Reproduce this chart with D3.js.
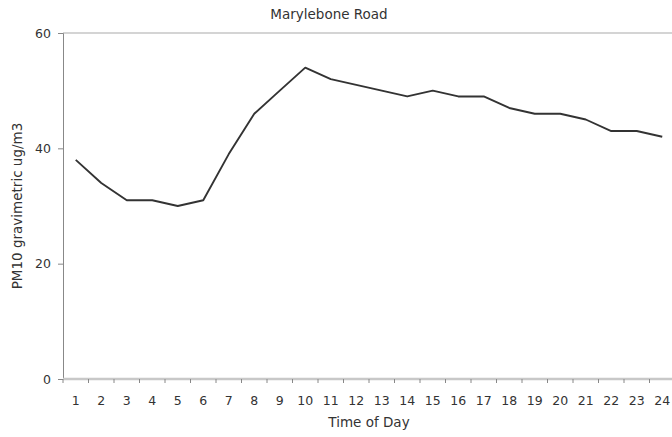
<!DOCTYPE html>
<html>
<head>
<meta charset="utf-8">
<script src="https://cdn.jsdelivr.net/npm/d3@7"></script>
<style>
  html, body { margin: 0; padding: 0; background: #fff; }
  svg { display: block; }
  text { font-family: "DejaVu Sans", Verdana, sans-serif; fill: #333; }
</style>
</head>
<body>
<svg id="chart" width="672" height="437"></svg>
<script>
// Hourly mean PM10 (gravimetric), Marylebone Road
const hours = ["1","2","3","4","5","6","7","8","9","10","11","12",
               "13","14","15","16","17","18","19","20","21","22","23","24"];
const pm10 = [38, 34, 31, 31, 30, 31, 39, 46, 50, 54, 52, 51,
              50, 49, 50, 49, 49, 47, 46, 46, 45, 43, 43, 42];
const yTicks = [0, 20, 40, 60];

const chartTitle = "Marylebone Road";
const xTitle = "Time of Day";
const yTitle = "PM10 gravimetric ug/m3";

const svg = d3.select("#chart");
const margin = { left: 63, right: -3, top: 33, bottom: 58 };
const W = 672, H = 437;

const x = d3.scaleBand()
  .domain(hours)
  .range([margin.left, W - margin.right]);

const y = d3.scaleLinear()
  .domain([0, 60])
  .range([H - margin.bottom, margin.top]);

// top gridline at 60
svg.append("line")
  .attr("x1", margin.left).attr("x2", W)
  .attr("y1", y(60)).attr("y2", y(60))
  .attr("stroke", "#d4d4d4").attr("stroke-width", 2);

// y axis
const yAxis = svg.append("g")
  .attr("transform", `translate(${margin.left},0)`)
  .call(d3.axisLeft(y).tickValues(yTicks).tickSize(5).tickPadding(7).tickFormat(d3.format("d")));
yAxis.select(".domain").attr("stroke", "#888").attr("stroke-width", 1);
yAxis.selectAll(".tick line").attr("stroke", "#888");
yAxis.selectAll(".tick text").attr("font-size", 12.5).style("fill", "#333");

// x axis with ticks between categories
const xAxisG = svg.append("g")
  .attr("transform", `translate(0,${y(0)})`);
xAxisG.append("line")
  .attr("x1", margin.left).attr("x2", W)
  .attr("y1", 0).attr("y2", 0)
  .attr("stroke", "#c8c8c8").attr("stroke-width", 2.5);
xAxisG.selectAll("line.sep")
  .data(hours)
  .join("line")
  .attr("class", "sep")
  .attr("x1", d => x(d)).attr("x2", d => x(d))
  .attr("y1", 0).attr("y2", 4)
  .attr("stroke", "#888");
xAxisG.selectAll("text.hl")
  .data(hours)
  .join("text")
  .attr("class", "hl")
  .attr("x", d => x(d) + x.bandwidth() / 2)
  .attr("y", 26)
  .attr("text-anchor", "middle")
  .attr("font-size", 12.5)
  .text(d => d);

// data line
const line = d3.line()
  .x((d, i) => x(hours[i]) + x.bandwidth() / 2)
  .y(d => y(d));

svg.append("path")
  .datum(pm10)
  .attr("fill", "none")
  .attr("stroke", "#333")
  .attr("stroke-width", 1.9)
  .attr("stroke-linejoin", "round")
  .attr("d", line);

// titles
svg.append("text")
  .attr("x", 329).attr("y", 19)
  .attr("text-anchor", "middle")
  .attr("font-size", 13.5)
  .text(chartTitle);

svg.append("text")
  .attr("x", 369)
  .attr("y", 427)
  .attr("text-anchor", "middle")
  .attr("font-size", 13.5)
  .text(xTitle);

svg.append("text")
  .attr("transform", `translate(22,${(y(0) + y(60)) / 2}) rotate(-90)`)
  .attr("text-anchor", "middle")
  .attr("font-size", 13.5)
  .text(yTitle);
</script>
</body>
</html>
